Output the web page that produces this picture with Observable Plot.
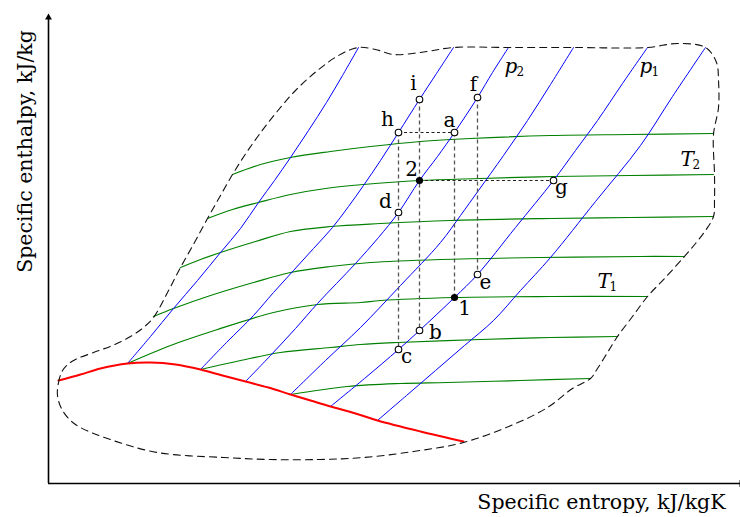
<!DOCTYPE html>
<html>
<head>
<meta charset="utf-8">
<script src="https://cdn.jsdelivr.net/npm/d3@7"></script>
<script src="https://cdn.jsdelivr.net/npm/@observablehq/plot@0.6"></script>
<style>
  html, body { margin: 0; padding: 0; background: #fff; }
  svg { display: block; }
</style>
</head>
<body>
<div id="chart"></div>
<script>
// Schematic h–s (Mollier) diagram. Coordinates are [entropy s, enthalpy h]
// in diagram units, with the origin at the corner of the axes.

// Constant-pressure lines (isobars), from the saturation line upward
const isobar1 = [[79,120],[102,147],[125,175],[149,203],[172,231],[192,255],[210,281],[226,303],[242,326],[260,353],[278,381],[294,408],[310,436]];
const isobar2 = [[152,114],[178,141],[205,168],[225,191],[245,213],[265,235],[284,256],[300,277],[315,298],[332,323],[350,351],[371,384],[388,410],[405,436]];
const isobar3 = [[197,102],[222,128],[247,155],[269,180],[288,200],[307,220],[330,246],[350,271],[371,303],[389,327],[406,351],[429,386],[444,411],[460,436]];
const isobar4 = [[242,89],[277,123],[312,156],[352,198],[392,241],[412,268],[430,293],[455,328],[479,363],[502,399],[525,436]];
const isobar5 = [[282,77],[316,105],[350,134],[371,153],[406,186],[429,209],[467,256],[505,303],[527,333],[549,363],[574,400],[599,436]];
const isobar6 = [[329,63],[358,88],[387,113],[416,138],[445,163],[472,193],[502,226],[547,282],[592,338],[624,387],[657,436]];

// Constant-temperature lines (isotherms), top to bottom
const isotherm1 = [[184,309],[212,319],[242,326],[282,332],[322,337],[372,342],[422,345],[502,348],[582,349],[665,350]];
const isotherm2 = [[159,265],[184,274],[210,281],[242,289],[277,295],[315,299],[371,303],[432,305],[505,307],[582,308],[665,309]];
const isotherm3 = [[132,216],[152,224],[172,231],[207,242],[242,252],[282,257],[332,260],[402,263],[502,265],[582,266],[665,267]];
const isotherm4 = [[105,167],[125,175],[162,188],[205,201],[242,211],[282,217],[322,221],[392,224],[492,226],[592,227],[635,227]];
const isotherm5 = [[79,120],[122,138],[169,154],[225,171],[269,179],[312,181],[332,183],[406,186],[502,187],[599,187]];
const isotherm6 = [[152,114],[192,123],[232,131],[282,136],[312,139],[349,141],[432,144],[502,146],[569,147]];
const isotherm7 = [[242,89],[299,97],[352,100],[399,101],[472,103],[542,105]];

// Saturated vapour line
const saturationLine = [[10,103],[32,109],[52,115],[79,120],[102,121],[127,119],[152,114],[174,108],[197,102],[220,96],[242,89],[262,83],[282,77],[307,70],[329,63],[372,52],[415,42]];

// Outline of the region covered by the chart (closed loop)
const regionOutline = [[9,88],[10,101],[13,111],[18,118],[27,124],[45,131],[64,138],[82,147],[95,156],[105,166],[119,191],[132,216],[146,241],[159,265],[172,288],[184,309],[196,328],[210,348],[227,370],[247,393],[269,413],[290,428],[310,436],[327,434],[345,429],[372,431],[405,436],[460,436],[525,436],[599,436],[629,440],[657,436],[668,421],[670,403],[670,376],[665,349],[666,309],[666,283],[665,267],[657,253],[647,240],[635,226],[617,206],[599,187],[584,167],[569,147],[559,131],[549,115],[542,105],[524,95],[499,76],[465,59],[415,41],[365,32],[315,26],[272,24],[222,24],[175,26],[109,31],[59,45],[27,59],[14,73]];

// State points
const stateNames = ["h","i","a","f","d","2","c","b","1","e","g"];
const stateS     = [350, 371, 406, 429, 350, 371, 350, 371, 406, 429, 505];
const stateH     = [351, 384, 351, 386, 271, 303, 134, 153, 186, 209, 303];
const solidStates = ["1","2"];

// Construction lines between state points
const verticalGuides   = [["h","c"],["i","b"],["a","1"],["f","e"]];
const horizontalGuides = [["h","a"],["2","g"]];

// Line labels: letter, subscript, position of the letter's baseline start
const lineLabelBase = ["p","p","T","T"];
const lineLabelSub  = ["2","1","2","1"];
const lineLabelS    = [456, 591, 632, 549];
const lineLabelH    = [411, 411, 318, 196];

// ---- build tables ----
const rows = (curves) => curves.flatMap((pts, i) => pts.map(([s, h]) => ({id: i, s, h})));
const isobarRows = rows([isobar1, isobar2, isobar3, isobar4, isobar5, isobar6]);
const isothermRows = rows([isotherm1, isotherm2, isotherm3, isotherm4, isotherm5, isotherm6, isotherm7]);
const saturationRows = rows([saturationLine]);
const outlineRows = rows([regionOutline]);

const states = stateNames.map((name, i) => ({name, s: stateS[i], h: stateH[i], solid: solidStates.includes(name)}));
const byName = Object.fromEntries(states.map(d => [d.name, d]));
const guide = ([p, q]) => ({s1: byName[p].s, h1: byName[p].h, s2: byName[q].s, h2: byName[q].h});
const vGuides = verticalGuides.map(guide);
const hGuides = horizontalGuides.map(guide);
const lineLabels = lineLabelBase.map((base, i) => ({base, sub: lineLabelSub[i], s: lineLabelS[i], h: lineLabelH[i]}));

// label placement around each state point (baseline offsets in px)
const labelOffset = {
  h: [-11, -7], i: [-6, -10], a: [-5, -6], f: [-4, -7], d: [-13, -5], "2": [-8, -5],
  c: [8, 13], b: [16, 8], "1": [10, 17], e: [8, 14], g: [8, 13]
};

const serif = "'DejaVu Serif', 'Liberation Serif', serif";

const marks = [
  Plot.line(isothermRows, {x: "s", y: "h", z: "id", stroke: "#008000", strokeWidth: 1.2, curve: "catmull-rom"}),
  Plot.line(isobarRows, {x: "s", y: "h", z: "id", stroke: "#0000ff", strokeWidth: 1, curve: "catmull-rom"}),
  Plot.line(saturationRows, {x: "s", y: "h", stroke: "#ff0000", strokeWidth: 2, curve: "catmull-rom"}),
  Plot.line(outlineRows, {x: "s", y: "h", stroke: "#111", strokeWidth: 1.1, strokeDasharray: "7,5", curve: "catmull-rom-closed"}),
  Plot.link(vGuides, {x1: "s1", y1: "h1", x2: "s2", y2: "h2", stroke: "#555", strokeWidth: 1.3, strokeDasharray: "4,3"}),
  Plot.link(hGuides, {x1: "s1", y1: "h1", x2: "s2", y2: "h2", stroke: "#222", strokeWidth: 1, strokeDasharray: "3,2.5"}),
  // axes with arrowheads
  Plot.ruleX([0], {y1: 0, y2: 466, stroke: "black", strokeWidth: 1.6}),
  Plot.ruleY([0], {x1: 0, x2: 692, stroke: "black", strokeWidth: 1.6}),
  Plot.dot([{s: 0, h: 466}], {x: "s", y: "h", symbol: "triangle2", r: 3.3, fill: "black"}),
  Plot.dot([{s: 693, h: 0}], {x: "s", y: "h", symbol: "triangle2", r: 3.3, fill: "black", rotate: 90}),
  // state points
  Plot.dot(states.filter(d => !d.solid), {x: "s", y: "h", r: 3.3, fill: "white", stroke: "black", strokeWidth: 1.1}),
  Plot.dot(states.filter(d => d.solid), {x: "s", y: "h", r: 3.6, fill: "black"}),
  ...states.map(d => Plot.text([d], {
    x: "s", y: "h", text: "name", dx: labelOffset[d.name][0], dy: labelOffset[d.name][1],
    textAnchor: "middle", lineAnchor: "bottom", fontSize: 20, fontFamily: serif, fill: "black"
  })),
  // isobar / isotherm labels
  Plot.text(lineLabels, {x: "s", y: "h", text: "base", textAnchor: "start", lineAnchor: "bottom",
    fontSize: 20, fontStyle: "italic", fontFamily: serif, fill: "black"}),
  Plot.text(lineLabels, {x: "s", y: "h", text: "sub", dx: 12, dy: 3, textAnchor: "start", lineAnchor: "bottom",
    fontSize: 12, fontFamily: serif, fill: "black"}),
  // axis titles
  Plot.text(["Specific entropy, kJ/kgK"], {frameAnchor: "bottom-right", dx: -15, dy: -9,
    textAnchor: "end", lineAnchor: "bottom", fontSize: 20.5, fontFamily: serif, fill: "black"}),
  Plot.text(["Specific enthalpy, kJ/kg"], {frameAnchor: "top-left", dx: 31, dy: 151, rotate: -90,
    textAnchor: "middle", lineAnchor: "bottom", fontSize: 20.5, fontFamily: serif, fill: "black"})
];

const chart = Plot.plot({
  width: 740,
  height: 517,
  margin: 0,
  x: {domain: [-48, 692], axis: null},
  y: {domain: [-34, 483], axis: null},
  style: {background: "white", fontFamily: serif, overflow: "visible"},
  marks
});

document.getElementById("chart").append(chart);
</script>
</body>
</html>
